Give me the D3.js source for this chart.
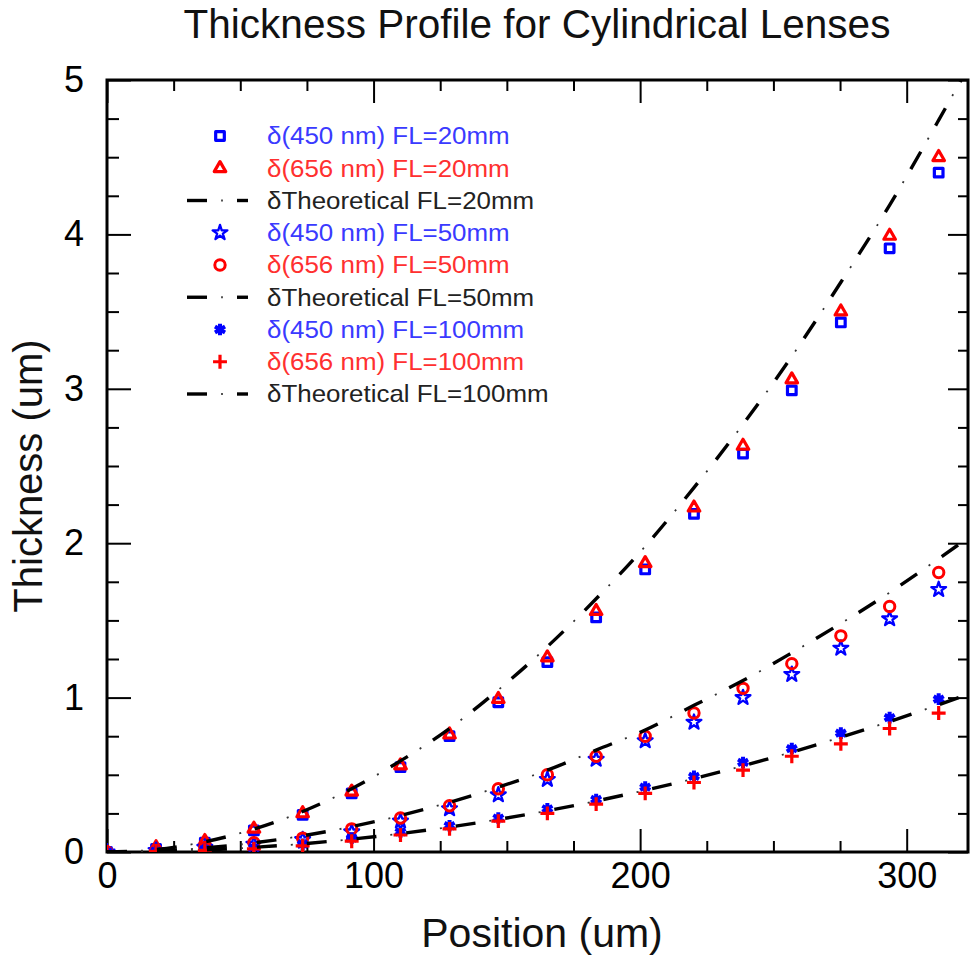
<!DOCTYPE html>
<html>
<head>
<meta charset="utf-8">
<script src="https://cdn.jsdelivr.net/npm/d3@7"></script>
<style>
  html, body { margin: 0; padding: 0; background: #fff; }
  svg { display: block; font-family: "Liberation Sans", Arial, sans-serif; }
</style>
</head>
<body>
<svg id="chart" width="972" height="957"></svg>
<script>
// ---------------- data ----------------
const positions = [0, 18.4, 36.7, 55.1, 73.4, 91.8, 110.1, 128.5, 146.8, 165.2, 183.5, 201.9, 220.2, 238.6, 256.9, 275.3, 293.6, 312];

const blue450_FL20 = [0, 0.02, 0.06, 0.14, 0.24, 0.38, 0.55, 0.75, 0.97, 1.23, 1.52, 1.83, 2.19, 2.58, 2.99, 3.43, 3.91, 4.40];
const red656_FL20  = [0, 0.03, 0.07, 0.15, 0.25, 0.39, 0.56, 0.76, 0.99, 1.26, 1.56, 1.87, 2.23, 2.63, 3.06, 3.50, 3.99, 4.50];
const blue450_FL50 = [0, 0.01, 0.03, 0.05, 0.08, 0.13, 0.20, 0.28, 0.37, 0.47, 0.60, 0.72, 0.84, 1.00, 1.15, 1.32, 1.51, 1.70];
const red656_FL50  = [0, 0.01, 0.03, 0.06, 0.09, 0.15, 0.22, 0.30, 0.41, 0.50, 0.62, 0.75, 0.90, 1.06, 1.22, 1.40, 1.59, 1.81];
const blue450_FL100 = [0, 0.005, 0.015, 0.03, 0.05, 0.09, 0.13, 0.17, 0.22, 0.28, 0.34, 0.42, 0.49, 0.58, 0.67, 0.77, 0.87, 0.99];
const red656_FL100  = [0, 0.004, 0.01, 0.02, 0.04, 0.07, 0.11, 0.15, 0.20, 0.25, 0.31, 0.38, 0.45, 0.53, 0.62, 0.70, 0.80, 0.90];

const theoryPositions = [0, 18.4, 36.7, 55.1, 73.4, 91.8, 110.1, 128.5, 146.8, 165.2, 183.5, 201.9, 220.2, 238.6, 256.9, 275.3, 293.6, 312, 330];
const theory_FL20  = [0, 0.016, 0.066, 0.148, 0.262, 0.41, 0.59, 0.80, 1.05, 1.33, 1.64, 1.98, 2.36, 2.77, 3.21, 3.69, 4.19, 4.74, 5.30];
const theory_FL50  = [0, 0.007, 0.026, 0.059, 0.105, 0.164, 0.236, 0.322, 0.42, 0.53, 0.66, 0.79, 0.95, 1.11, 1.29, 1.48, 1.68, 1.90, 2.12];
const theory_FL100 = [0, 0.003, 0.013, 0.030, 0.053, 0.083, 0.119, 0.162, 0.211, 0.267, 0.33, 0.40, 0.475, 0.558, 0.647, 0.743, 0.845, 0.954, 1.067];

const xMajorTicks = [0, 100, 200, 300];
const xMinorTicks = [25, 50, 75, 125, 150, 175, 225, 250, 275];
const yMajorTicks = [0, 1, 2, 3, 4, 5];
const yMinorTicks = [0.25, 0.5, 0.75, 1.25, 1.5, 1.75, 2.25, 2.5, 2.75, 3.25, 3.5, 3.75, 4.25, 4.5, 4.75];

const titleText = "Thickness Profile for Cylindrical Lenses";
const xLabel = "Position (um)";
const yLabel = "Thickness (um)";

const legendLabels = [
  "δ(450 nm) FL=20mm", "δ(656 nm) FL=20mm", "δTheoretical FL=20mm",
  "δ(450 nm) FL=50mm", "δ(656 nm) FL=50mm", "δTheoretical FL=50mm",
  "δ(450 nm) FL=100mm", "δ(656 nm) FL=100mm", "δTheoretical FL=100mm"
];

// ---------------- setup ----------------
const svg = d3.select("#chart");
const M = { left: 107, right: 968, top: 80, bottom: 852 };
const x = d3.scaleLinear().domain([0, 323]).range([M.left, M.right]);
const y = d3.scaleLinear().domain([0, 5]).range([M.bottom, M.top]);

const BLUE = "#0000ff", RED = "#ff0000";
const markerSeries = [
  { vals: blue450_FL20, type: d3.symbolSquare2, size: 95, color: BLUE, fill: "none", sw: 3.2 },
  { vals: red656_FL20, type: d3.symbolTriangle2, size: 95, color: RED, fill: "none", sw: 3.2 },
  { vals: blue450_FL50, type: d3.symbolStar, size: 68, color: BLUE, fill: "none", sw: 2.3 },
  { vals: red656_FL50, type: d3.symbolCircle, size: 85, color: RED, fill: "none", sw: 3 },
  { vals: blue450_FL100, type: d3.symbolAsterisk, size: 95, color: BLUE, fill: "none", sw: 4 },
  { vals: red656_FL100, type: d3.symbolPlus, size: 65, color: RED, fill: "none", sw: 3.2 }
];
const theorySeries = [theory_FL20, theory_FL50, theory_FL100];

svg.append("defs").append("clipPath").attr("id", "plotclip")
  .append("rect").attr("x", M.left).attr("y", M.top)
  .attr("width", M.right - M.left).attr("height", M.bottom - M.top);

// ---------------- axes ----------------
function styleAxis(g) {
  g.select(".domain").remove();
  g.selectAll(".tick line").attr("stroke", "#000").attr("stroke-width", 2);
  g.selectAll(".tick text").attr("fill", "#000").attr("font-size", 36)
    .attr("font-family", "'Liberation Sans', Arial, sans-serif");
}
svg.append("g").attr("transform", `translate(0,${M.bottom})`)
  .call(d3.axisBottom(x).tickValues(xMajorTicks).tickSize(-23).tickPadding(10).tickFormat(d3.format("d")))
  .call(styleAxis);
svg.append("g").attr("transform", `translate(0,${M.bottom})`)
  .call(d3.axisBottom(x).tickValues(xMinorTicks).tickSize(-11).tickFormat(""))
  .call(styleAxis);
svg.append("g").attr("transform", `translate(0,${M.top})`)
  .call(d3.axisTop(x).tickValues(xMajorTicks).tickSize(-23).tickFormat(""))
  .call(styleAxis);
svg.append("g").attr("transform", `translate(0,${M.top})`)
  .call(d3.axisTop(x).tickValues(xMinorTicks).tickSize(-11).tickFormat(""))
  .call(styleAxis);
svg.append("g").attr("transform", `translate(${M.left},0)`)
  .call(d3.axisLeft(y).tickValues(yMajorTicks).tickSize(-24).tickPadding(23).tickFormat(d3.format("d")))
  .call(styleAxis);
svg.append("g").attr("transform", `translate(${M.left},0)`)
  .call(d3.axisLeft(y).tickValues(yMinorTicks).tickSize(-12).tickFormat(""))
  .call(styleAxis);
svg.append("g").attr("transform", `translate(${M.right},0)`)
  .call(d3.axisRight(y).tickValues(yMajorTicks).tickSize(-20).tickFormat(""))
  .call(styleAxis);
svg.append("g").attr("transform", `translate(${M.right},0)`)
  .call(d3.axisRight(y).tickValues(yMinorTicks).tickSize(-10).tickFormat(""))
  .call(styleAxis);

svg.append("rect").attr("x", M.left).attr("y", M.top)
  .attr("width", M.right - M.left).attr("height", M.bottom - M.top)
  .attr("fill", "none").attr("stroke", "#000").attr("stroke-width", 3);

// ---------------- markers ----------------
const plot = svg.append("g").attr("clip-path", "url(#plotclip)");
markerSeries.forEach(s => {
  const sym = d3.symbol().type(s.type).size(s.size);
  plot.append("g").selectAll("path").data(s.vals.map((v, i) => [positions[i], v]))
    .join("path")
    .attr("d", sym)
    .attr("transform", d => `translate(${x(d[0])},${y(d[1])})`)
    .attr("fill", s.fill).attr("stroke", s.color).attr("stroke-width", s.sw)
    .attr("stroke-linejoin", "round");
});

// ---------------- theoretical lines ----------------
const line = d3.line().x(d => x(d[0])).y(d => y(d[1])).curve(d3.curveMonotoneX);
theorySeries.forEach(t => {
  const pts = t.map((v, i) => [theoryPositions[i], v]);
  plot.append("path").attr("d", line(pts)).attr("fill", "none")
    .attr("stroke", "#000").attr("stroke-width", 3.4).attr("stroke-dasharray", "20,30");
  plot.append("path").attr("d", line(pts)).attr("fill", "none")
    .attr("stroke", "#333").attr("stroke-width", 1.8).attr("stroke-dasharray", "0,34,2,14");
});

// ---------------- legend ----------------
const legend = svg.append("g");
const rowY = d3.scaleLinear().domain([0, 8]).range([136, 394]);
const legendColors = ["#3a3aff", "#ff3030", "#222", "#3a3aff", "#ff3030", "#222", "#3a3aff", "#ff3030", "#222"];
legendLabels.forEach((lab, i) => {
  const yy = rowY(i);
  const k = i % 3, grp = Math.floor(i / 3);
  if (k < 2) {
    const s = markerSeries[grp * 2 + k];
    legend.append("path").attr("d", d3.symbol().type(s.type).size(s.size)())
      .attr("transform", `translate(220,${yy})`)
      .attr("fill", s.fill).attr("stroke", s.color).attr("stroke-width", s.sw)
      .attr("stroke-linejoin", "round");
  } else {
    legend.append("line").attr("x1", 187).attr("x2", 207).attr("y1", yy).attr("y2", yy)
      .attr("stroke", "#000").attr("stroke-width", 3.4);
    legend.append("line").attr("x1", 221).attr("x2", 223).attr("y1", yy).attr("y2", yy)
      .attr("stroke", "#555").attr("stroke-width", 1.8);
    legend.append("line").attr("x1", 237).attr("x2", 248).attr("y1", yy).attr("y2", yy)
      .attr("stroke", "#000").attr("stroke-width", 3.4);
  }
  legend.append("text").attr("transform", `translate(267,${yy}) scale(1.08,1)`)
    .attr("dy", "0.35em").attr("font-size", 24).attr("fill", legendColors[i]).text(lab);
});

// ---------------- titles ----------------
svg.append("text").attr("x", 537).attr("y", 38).attr("text-anchor", "middle")
  .attr("font-size", 40.5).attr("fill", "#111").text(titleText);
svg.append("text").attr("x", 542).attr("y", 947).attr("text-anchor", "middle")
  .attr("font-size", 41).attr("fill", "#111").text(xLabel);
svg.append("text").attr("transform", "translate(42,476) rotate(-90)").attr("text-anchor", "middle")
  .attr("font-size", 40).attr("fill", "#111").text(yLabel);
</script>
</body>
</html>
